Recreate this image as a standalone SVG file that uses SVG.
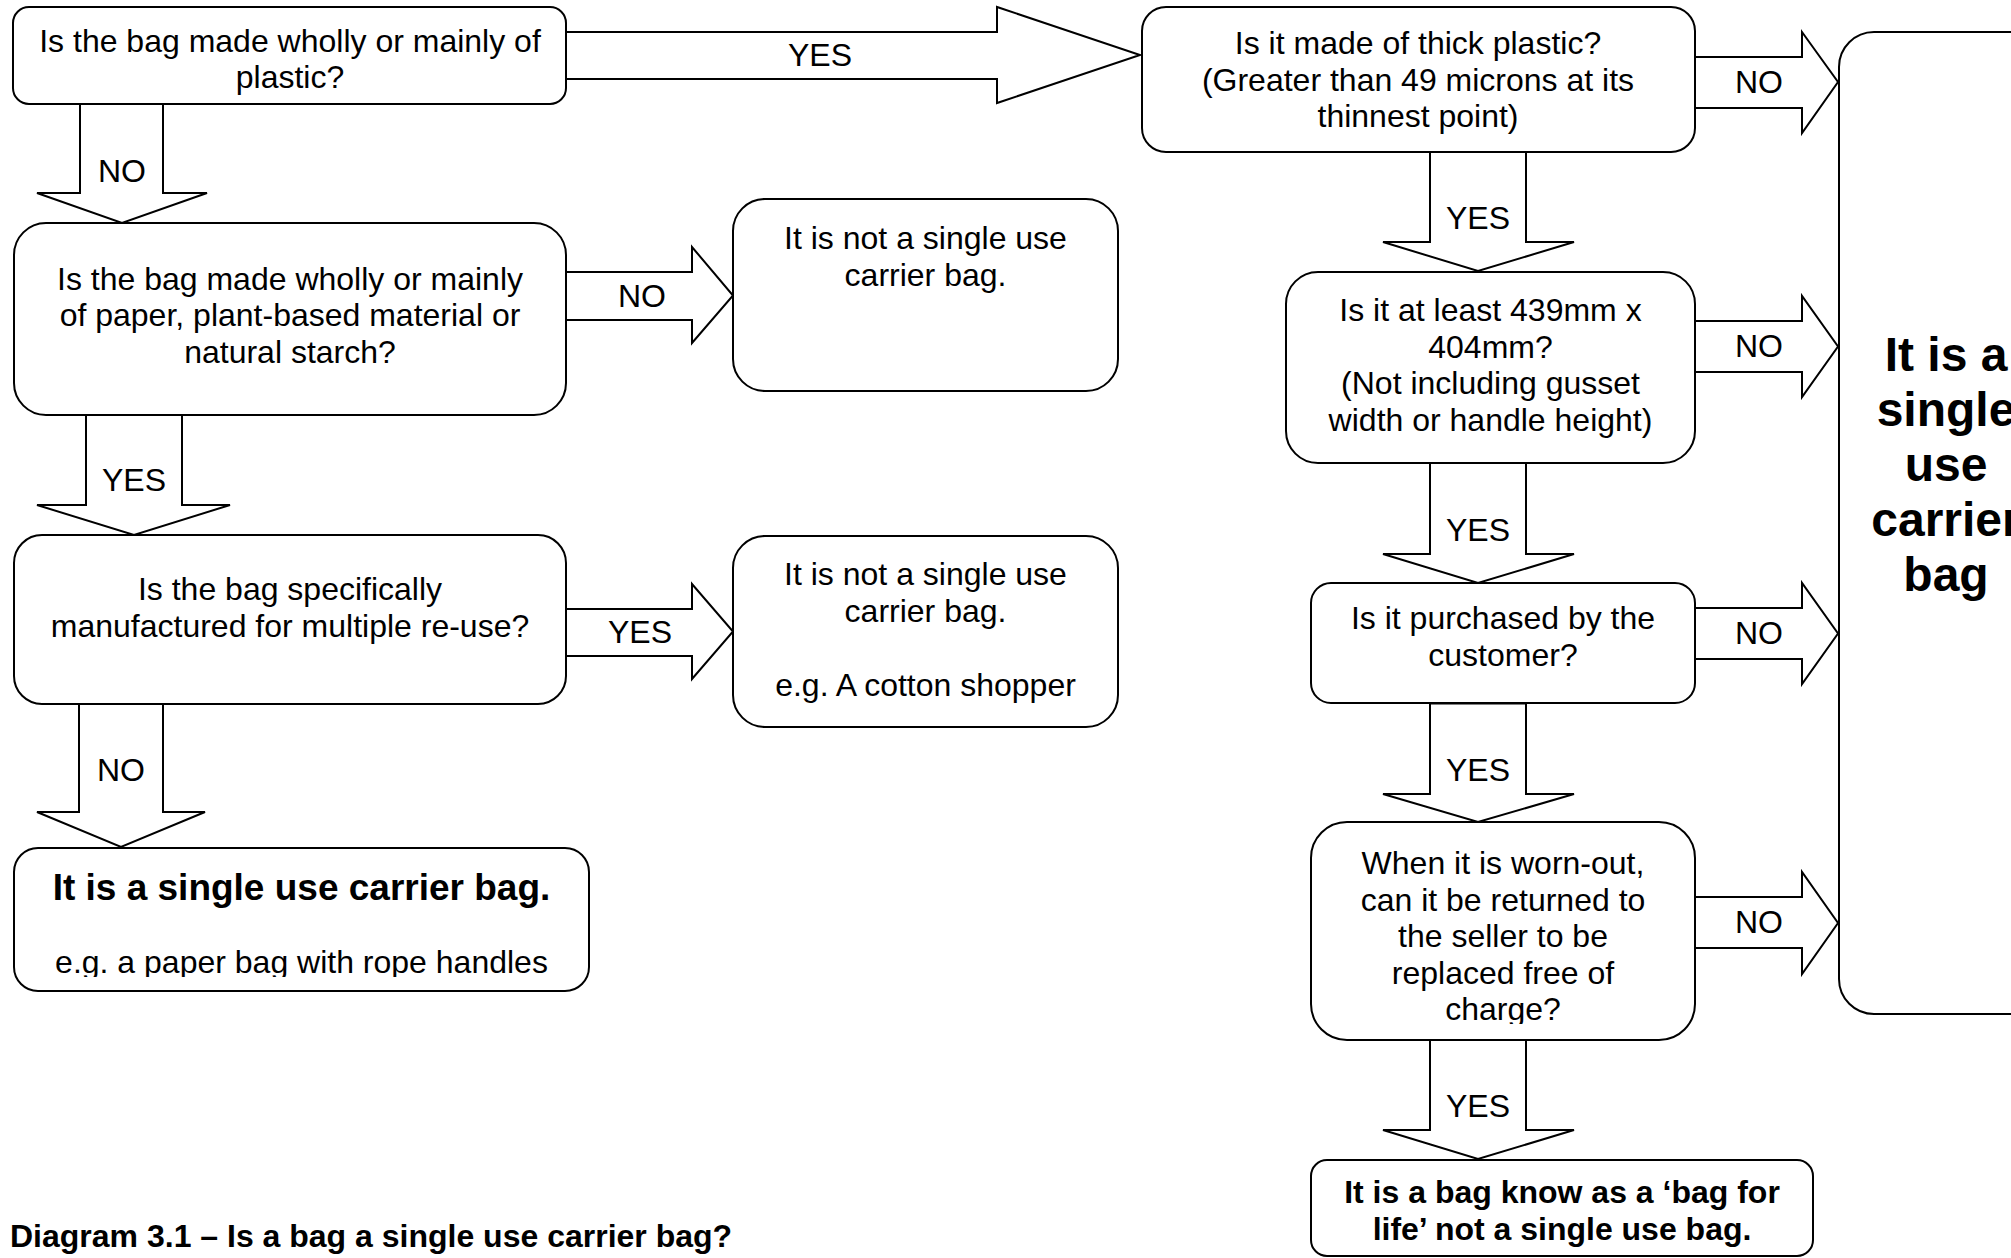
<svg xmlns="http://www.w3.org/2000/svg" width="2011" height="1258" viewBox="0 0 2011 1258">
<style>
.box{fill:#fff;stroke:#000;stroke-width:2}
.arr{fill:#fff;stroke:#000;stroke-width:2;stroke-linejoin:miter}
text{font-family:"Liberation Sans",Arial,sans-serif;font-size:32px;fill:#000;text-anchor:middle}
.b{font-weight:bold}
.t{font-size:37px;font-weight:bold}
.big{font-size:48px;font-weight:bold}
.l{text-anchor:start}
</style>
<defs>
<clipPath id="clip7"><rect x="14" y="848" width="575" height="129"/></clipPath>
<clipPath id="clip10"><rect x="1311" y="822" width="384" height="202"/></clipPath>
</defs>
<rect width="2011" height="1258" fill="#fff"/>

<g id="connectors">
<polygon class="arr" points="566,32 997,32 997,7 1140,55 997,103 997,79 566,79"/>
<polygon class="arr" points="566,272 692,272 692,247 733,295.5 692,343 692,320 566,320"/>
<polygon class="arr" points="566,609 692,609 692,584 733,631.5 692,679 692,656 566,656"/>
<polygon class="arr" points="1695,57 1802,57 1802,32 1838,82 1802,133 1802,108 1695,108"/>
<polygon class="arr" points="1695,321 1802,321 1802,296 1838,346.5 1802,397 1802,372 1695,372"/>
<polygon class="arr" points="1695,608 1802,608 1802,583 1838,633.5 1802,684 1802,659 1695,659"/>
<polygon class="arr" points="1695,897 1802,897 1802,872 1838,923 1802,974 1802,948 1695,948"/>
<polygon class="arr" points="80,104 163,104 163,193 207,193 122,223 37,193 80,193"/>
<polygon class="arr" points="86,415 182,415 182,505 230,505 134,535 37,505 86,505"/>
<polygon class="arr" points="79,704 163,704 163,812 205,812 121,847 37,812 79,812"/>
<polygon class="arr" points="1430,151.5 1526,151.5 1526,242 1574,242 1478,271 1383,242 1430,242"/>
<polygon class="arr" points="1430,463 1526,463 1526,554 1574,554 1478,583 1383,554 1430,554"/>
<polygon class="arr" points="1430,703.5 1526,703.5 1526,794 1574,794 1478,822 1383,794 1430,794"/>
<polygon class="arr" points="1430,1040 1526,1040 1526,1130 1574,1130 1478,1159 1383,1130 1430,1130"/>
<text x="820" y="66">YES</text>
<text x="642" y="306.5">NO</text>
<text x="640" y="643">YES</text>
<text x="1759" y="93">NO</text>
<text x="1759" y="357">NO</text>
<text x="1759" y="644">NO</text>
<text x="1759" y="933">NO</text>
<text x="122" y="182">NO</text>
<text x="134" y="491">YES</text>
<text x="121" y="781">NO</text>
<text x="1478" y="229">YES</text>
<text x="1478" y="541">YES</text>
<text x="1478" y="781">YES</text>
<text x="1478" y="1117">YES</text>
</g>

<g id="q-plastic">
<rect class="box" x="13" y="7" width="553" height="97" rx="16"/>
<text x="290" y="52">Is the bag made wholly or mainly of</text>
<text x="290" y="88">plastic?</text>
</g>

<g id="q-thick">
<rect class="box" x="1142" y="7" width="553" height="145" rx="24"/>
<text x="1418" y="54">Is it made of thick plastic?</text>
<text x="1418" y="90.5">(Greater than 49 microns at its</text>
<text x="1418" y="127">thinnest point)</text>
</g>

<g id="q-paper">
<rect class="box" x="14" y="223" width="552" height="192" rx="32"/>
<text x="290" y="289.5">Is the bag made wholly or mainly</text>
<text x="290" y="326.3">of paper, plant-based material or</text>
<text x="290" y="363">natural starch?</text>
</g>

<g id="not-single-1">
<rect class="box" x="733" y="199" width="385" height="192" rx="32"/>
<text x="925.5" y="249">It is not a single use</text>
<text x="925.5" y="285.5">carrier bag.</text>
</g>

<g id="q-reuse">
<rect class="box" x="14" y="535" width="552" height="169" rx="28"/>
<text x="290" y="600">Is the bag specifically</text>
<text x="290" y="636.5">manufactured for multiple re-use?</text>
</g>

<g id="not-single-2">
<rect class="box" x="733" y="536" width="385" height="191" rx="32"/>
<text x="925.5" y="585">It is not a single use</text>
<text x="925.5" y="622">carrier bag.</text>
<text x="925.5" y="695.5">e.g. A cotton shopper</text>
</g>

<g id="single-left">
<rect class="box" x="14" y="848" width="575" height="143" rx="24"/>
<text class="t" x="301.5" y="899.5">It is a single use carrier bag.</text>
<text x="301.5" y="973" clip-path="url(#clip7)">e.g. a paper bag with rope handles</text>
</g>

<g id="q-size">
<rect class="box" x="1286" y="272" width="409" height="191" rx="32"/>
<text x="1490.5" y="321">Is it at least 439mm x</text>
<text x="1490.5" y="357.5">404mm?</text>
<text x="1490.5" y="394">(Not including gusset</text>
<text x="1490.5" y="430.5">width or handle height)</text>
</g>

<g id="q-purchased">
<rect class="box" x="1311" y="583" width="384" height="120" rx="20"/>
<text x="1503" y="629">Is it purchased by the</text>
<text x="1503" y="665.5">customer?</text>
</g>

<g id="q-returned">
<rect class="box" x="1311" y="822" width="384" height="218" rx="36"/>
<g clip-path="url(#clip10)">
<text x="1503" y="874">When it is worn-out,</text>
<text x="1503" y="910.5">can it be returned to</text>
<text x="1503" y="947">the seller to be</text>
<text x="1503" y="984">replaced free of</text>
<text x="1503" y="1020">charge?</text>
</g>
</g>

<g id="bag-for-life">
<rect class="box" x="1311" y="1160" width="502" height="96" rx="16"/>
<text class="b" x="1562" y="1203">It is a bag know as a ‘bag for</text>
<text class="b" x="1562" y="1240">life’ not a single use bag.</text>
</g>

<g id="single-right">
<rect class="box" x="1839" y="32" width="230" height="982" rx="35"/>
<text class="big" x="1946" y="371">It is a</text>
<text class="big" x="1946" y="426">single</text>
<text class="big" x="1946" y="481">use</text>
<text class="big" x="1946" y="536">carrier</text>
<text class="big" x="1946" y="591">bag</text>
</g>

<g id="caption">
<text class="b l" x="10" y="1247">Diagram 3.1 – Is a bag a single use carrier bag?</text>
</g>
</svg>
